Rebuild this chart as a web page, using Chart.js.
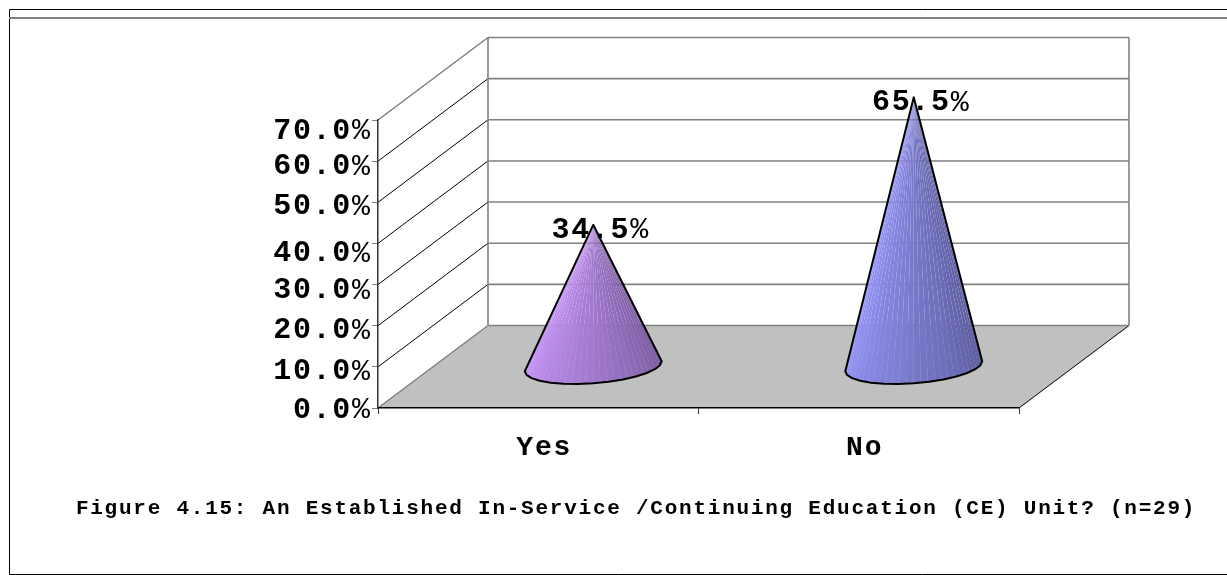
<!DOCTYPE html>
<html>
<head>
<meta charset="utf-8">
<title>Figure 4.15</title>
<script src="https://cdn.jsdelivr.net/npm/chart.js@4/dist/chart.umd.min.js"></script>
<style>
  html, body { margin: 0; padding: 0; background: #fff; }
  canvas { display: block; }
</style>
</head>
<body>
<canvas id="chart" width="1227" height="575"></canvas>
<script>
const categories = ['Yes', 'No'];
const percentages = [34.5, 65.5];
const valueLabels = ['34.5%', '65.5%'];
const caption = 'Figure 4.15: An Established In-Service /Continuing Education (CE) Unit? (n=29)';

// 3D look: how far the back wall sits from the front axes
const depthX = 110;
const depthY = 82.5;
const fontName = '"Liberation Mono", monospace';
const gray = '#808080';
// the value axis labels sit unevenly below their ticks in the original (0% up to 70%)
const tickLabelDrop = [2, 5, 5, 6, 10.5, 4.5, 5.5, 11];
const coneShades = [
  { left: [204, 153, 255], right: [118, 88, 155] },
  { left: [153, 153, 255], right: [88, 88, 152] }
];

// The original text is widely tracked, so every label gets its own letter spacing
function spacedText(ctx, text, x, y, size, spacing, align, weight) {
  ctx.save();
  ctx.font = `${weight} ${size}px ${fontName}`;
  ctx.letterSpacing = spacing + 'px';
  ctx.fillStyle = '#000';
  ctx.textAlign = align;
  ctx.textBaseline = 'middle';
  ctx.fillText(text, x, y);
  ctx.restore();
}

// Number in bold with a thinner percent sign, right edge at x
function percentText(ctx, text, x, y) {
  const size = 30;
  const advance = 19.7;
  const spacing = advance - size * 0.6;
  spacedText(ctx, '%', x, y, size, 0, 'right', 'normal');
  spacedText(ctx, text.replace('%', ''), x - advance + spacing, y, size, spacing, 'right', 'bold');
}

function line(ctx, x1, y1, x2, y2, color, width) {
  ctx.beginPath();
  ctx.moveTo(x1, y1);
  ctx.lineTo(x2, y2);
  ctx.strokeStyle = color;
  ctx.lineWidth = width;
  ctx.stroke();
}

const wallsPlugin = {
  id: 'walls',
  beforeDraw(chart) {
    const ctx = chart.ctx;
    const { x, y } = chart.scales;
    const left = x.left;
    const right = x.right;
    const floor = y.getPixelForValue(0);

    ctx.save();
    ctx.fillStyle = '#fff';
    ctx.fillRect(0, 0, chart.width, chart.height);

    // page frame
    line(ctx, 9.5, 9.5, chart.width, 9.5, '#000', 1);
    line(ctx, 9.5, 9.5, 9.5, 574.5, '#000', 1);
    line(ctx, 9.5, 574.5, chart.width, 574.5, '#000', 1);
    line(ctx, 9, 18, chart.width, 18, gray, 2);

    // floor
    ctx.beginPath();
    ctx.moveTo(left, floor);
    ctx.lineTo(right, floor);
    ctx.lineTo(right + depthX, floor - depthY);
    ctx.lineTo(left + depthX, floor - depthY);
    ctx.closePath();
    ctx.fillStyle = '#c0c0c0';
    ctx.fill();
    line(ctx, right, floor, right + depthX, floor - depthY, '#000', 1);

    // side wall and back wall lines per tick
    y.ticks.forEach(tick => {
      const py = y.getPixelForValue(tick.value);
      const edge = tick.value === y.min || tick.value === y.max;
      line(ctx, left, py, left + depthX, py - depthY, edge ? gray : '#000', edge ? 1.5 : 1);
      line(ctx, left + depthX, py - depthY, right + depthX, py - depthY, gray, 1.6);
    });
    const topY = y.getPixelForValue(y.max) - depthY;
    line(ctx, left + depthX, topY, left + depthX, floor - depthY, gray, 1.6);
    line(ctx, right + depthX, topY, right + depthX, floor - depthY, gray, 1.6);
    ctx.restore();
  }
};

function drawCone(ctx, bar, shade) {
  const cx = bar.x + depthX / 2;
  const baseY = bar.base - depthY / 2;
  const apexY = bar.y - depthY / 2;
  const r = bar.width / 2;
  const rim = t => ({
    x: cx + r * Math.cos(t),
    y: baseY - 0.073 * r * Math.cos(t) + 0.25 * r * Math.sin(t)
  });

  // fan of slices, the hairline seams between them give the faint ribs
  const slices = 30;
  for (let i = 0; i < slices; i++) {
    const a = rim(Math.PI * (1 - i / slices));
    const b = rim(Math.PI * (1 - (i + 1) / slices));
    const u = (i + 0.5) / slices;
    const c = shade.left.map((v, k) => Math.round(v + (shade.right[k] - v) * u));
    ctx.beginPath();
    ctx.moveTo(cx, apexY);
    ctx.lineTo(a.x, a.y);
    ctx.lineTo(b.x, b.y);
    ctx.closePath();
    ctx.fillStyle = `rgb(${c[0]},${c[1]},${c[2]})`;
    ctx.fill();
  }

  ctx.beginPath();
  ctx.moveTo(cx, apexY);
  for (let i = 0; i <= 14; i++) {
    const p = rim(Math.PI * (1 - i / 14));
    ctx.lineTo(p.x, p.y);
  }
  ctx.closePath();
  ctx.strokeStyle = '#000';
  ctx.lineWidth = 2;
  ctx.lineJoin = 'round';
  ctx.stroke();
}

const conesPlugin = {
  id: 'cones',
  afterDatasetsDraw(chart) {
    const ctx = chart.ctx;
    const { x, y } = chart.scales;
    const bars = chart.getDatasetMeta(0).data;

    // axis text
    y.ticks.forEach((tick, i) => {
      percentText(ctx, tick.label, 370, y.getPixelForValue(tick.value) + tickLabelDrop[i]);
    });
    categories.forEach((name, i) => {
      spacedText(ctx, name, x.getPixelForValue(i) + 6, 448, 28, 1.9, 'center', 'bold');
    });
    spacedText(ctx, caption, 636, 509, 21, 1.76, 'center', 'bold');

    // value labels go under the cone tips
    bars.forEach((bar, i) => {
      percentText(ctx, valueLabels[i], bar.x + depthX / 2 + 55, bar.y - depthY / 2 + 5.5);
    });
    bars.forEach((bar, i) => drawCone(ctx, bar, coneShades[i]));
  }
};

new Chart(document.getElementById('chart'), {
  type: 'bar',
  data: {
    labels: categories,
    datasets: [{
      data: percentages,
      backgroundColor: 'transparent',
      barPercentage: 0.427,
      categoryPercentage: 1
    }]
  },
  options: {
    responsive: false,
    animation: false,
    layout: { padding: { top: 120, right: 208 } },
    plugins: { legend: { display: false }, tooltip: { enabled: false } },
    scales: {
      x: {
        afterFit(scale) { scale.height = 167; },
        ticks: { display: false },
        border: { color: '#000', width: 1.5 },
        grid: { drawOnChartArea: false, color: '#333', tickLength: 6 }
      },
      y: {
        min: 0,
        max: 70,
        afterFit(scale) { scale.width = 378; },
        ticks: { display: false, stepSize: 10, callback: v => v.toFixed(1) + '%' },
        border: { color: '#333', width: 1.5 },
        grid: { drawOnChartArea: false, color: gray, tickLength: 6 }
      }
    }
  },
  plugins: [wallsPlugin, conesPlugin]
});
</script>
</body>
</html>
